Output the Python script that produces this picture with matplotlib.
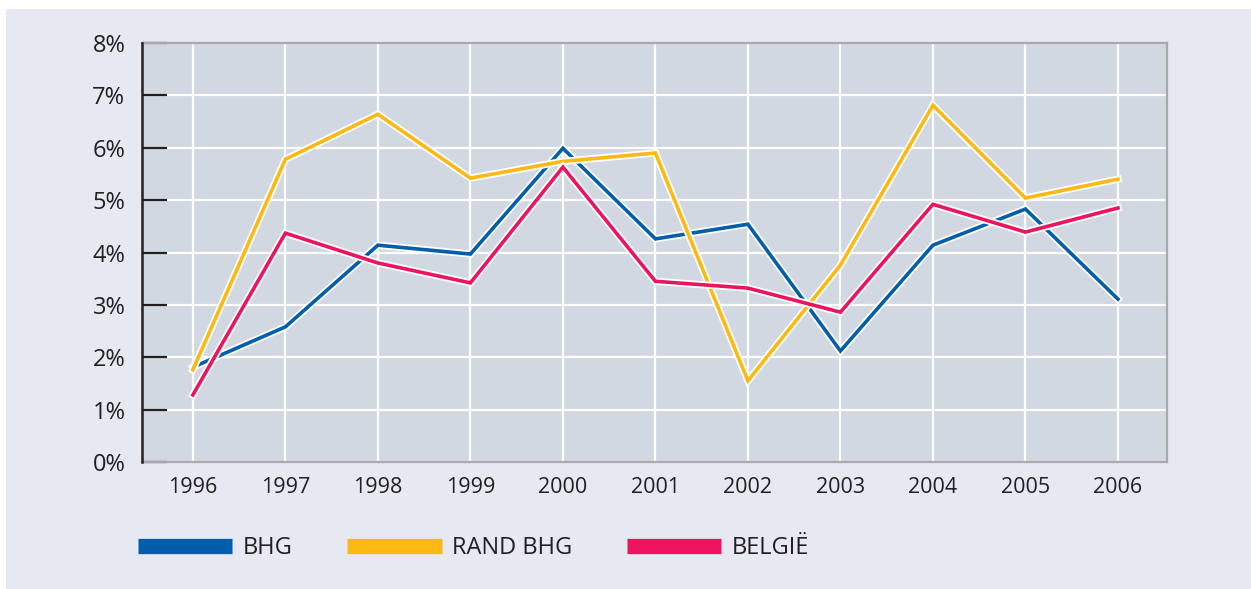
import matplotlib.pyplot as plt
import matplotlib.patheffects as pe
from matplotlib.lines import Line2D
from matplotlib.patches import Rectangle

years = [1996, 1997, 1998, 1999, 2000, 2001, 2002, 2003, 2004, 2005, 2006]
bhg = [1.81, 2.58, 4.14, 3.97, 5.99, 4.26, 4.54, 2.12, 4.14, 4.83, 3.11]
rand_bhg = [1.76, 5.78, 6.64, 5.42, 5.74, 5.90, 1.55, 3.76, 6.81, 5.04, 5.40]
belgie = [1.28, 4.37, 3.80, 3.42, 5.63, 3.45, 3.32, 2.86, 4.92, 4.39, 4.85]
labels = ['BHG', 'RAND BHG', 'BELGIË']
colors = ['#005eab', '#fdb813', '#ec145e']
yticks = [0, 1, 2, 3, 4, 5, 6, 7, 8]

plt.rcParams['font.family'] = ['Open Sans', 'DejaVu Sans']

W, H = 1251, 589
fig = plt.figure(figsize=(W / 100, H / 100), dpi=100, facecolor='white')
# light background panel
fig.patches.append(Rectangle((6 / W, 0), 1, 1 - 9 / H, transform=fig.transFigure,
                             facecolor='#e6e9f1', edgecolor='none', zorder=-10))

ax = fig.add_axes([142 / W, 1 - 462 / H, (1167 - 142) / W, (462 - 43) / H])
ax.set_facecolor('#d2d8e1')

for series, c in zip([bhg, rand_bhg, belgie], colors):
    ax.plot(years, series, color=c, lw=2.6, solid_joinstyle='miter', zorder=3,
            path_effects=[pe.Stroke(linewidth=5.2, foreground='white'), pe.Normal()])

ax.set_xlim(1995.45, 2006.53)
ax.set_ylim(0, 8)
ax.set_xticks(years)
ax.set_xticklabels([str(y) for y in years])
ax.set_yticks(yticks)
ax.set_yticklabels([f'{v}%' for v in yticks])
ax.grid(True, color='white', lw=1.6, zorder=1)
ax.set_axisbelow(True)

ax.tick_params(axis='y', direction='in', length=18, width=1.6, color='#231f20',
               labelsize=17, pad=12, labelcolor='#231f20')
ax.tick_params(axis='x', length=0, labelsize=15.5, pad=11, labelcolor='#231f20')

for s in ['top', 'right', 'bottom']:
    ax.spines[s].set_color('#a7a9ac')
    ax.spines[s].set_linewidth(1.6)
ax.spines['left'].set_color('#231f20')
ax.spines['left'].set_linewidth(1.8)
ax.spines['left'].set_zorder(4)

handles = [Line2D([], [], color=c, lw=11, solid_capstyle='butt') for c in colors]
fig.legend(handles, labels, loc='center left', bbox_to_anchor=(138 / W, 1 - 548 / H),
           ncol=3, frameon=False, fontsize=17, handlelength=4.0, handletextpad=0.45,
           columnspacing=2.3, borderpad=0, borderaxespad=0, labelcolor='#231f20')

fig.savefig('out.png', dpi=100, facecolor='white')
